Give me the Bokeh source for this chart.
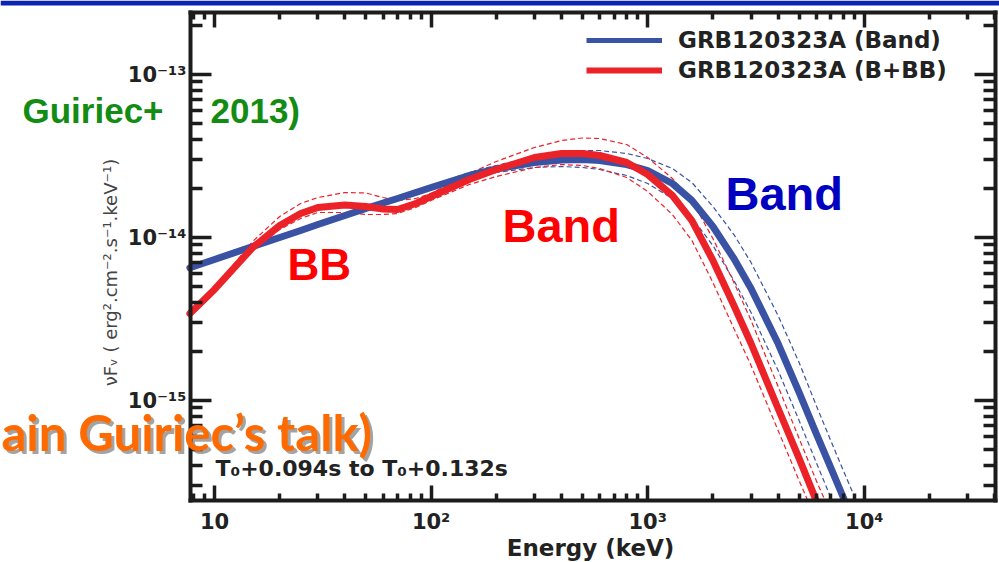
import numpy as np
from math import pi
from bokeh.plotting import figure
from bokeh.models import (FixedTicker, LogAxis, Label, Legend, LegendItem,
                          BoxAnnotation, Range1d, CustomJSTickFormatter)
from bokeh.embed import file_html
from bokeh.resources import INLINE

# ---------------- data ----------------
# photon energy grid in keV
energy_kev = [7.7, 10, 15, 20, 25, 30, 40, 50, 60, 70, 85, 100, 150, 200, 300,
              400, 500, 600, 800, 1000, 1300, 1600, 2000, 2500, 3000, 4000,
              5000, 6000, 7000, 8000, 9000, 10000]

# nuFnu in units of 1e-14 erg^2 cm^-2 s^-1 keV^-1
band_best = [0.652, 0.733, 0.881, 1.000, 1.104, 1.202, 1.364, 1.506, 1.628,
             1.735, 1.888, 2.027, 2.401, 2.632, 2.885, 2.989, 3.010, 2.967,
             2.804, 2.577, 2.144, 1.687, 1.168, 0.743, 0.487, 0.2237, 0.1120,
             0.0627, 0.0388, 0.0254, 0.01735, 0.01236]
band_upper = [0.661, 0.743, 0.893, 1.014, 1.120, 1.219, 1.384, 1.528, 1.663,
              1.772, 1.929, 2.085, 2.505, 2.765, 3.140, 3.322, 3.418, 3.418,
              3.276, 3.053, 2.650, 2.175, 1.549, 1.043, 0.702, 0.332, 0.1711,
              0.0932, 0.0568, 0.0372, 0.0258, 0.0184]
band_lower = [0.642, 0.723, 0.868, 0.986, 1.088, 1.185, 1.346, 1.485, 1.594,
              1.698, 1.849, 1.970, 2.301, 2.505, 2.688, 2.726, 2.688, 2.613,
              2.401, 2.144, 1.735, 1.326, 0.893, 0.545, 0.347, 0.1528, 0.0754,
              0.0417, 0.0254, 0.0166]
bbb_best = [0.342, 0.480, 0.868, 1.185, 1.404, 1.528, 1.583, 1.549, 1.496,
            1.485, 1.617, 1.785, 2.269, 2.613, 3.096, 3.276, 3.276, 3.185,
            2.885, 2.435, 1.810, 1.271, 0.723, 0.383, 0.2237, 0.0893, 0.0441,
            0.0243, 0.01485]
bbb_upper = [0.347, 0.4935, 0.945, 1.346, 1.617, 1.759, 1.888, 1.875, 1.759,
             1.687, 1.735, 1.862, 2.470, 2.926, 3.566, 3.936, 4.078, 4.049,
             3.720, 3.096, 2.301, 1.687, 0.986, 0.530, 0.310, 0.1219, 0.0585,
             0.0323, 0.0203]
bbb_lower = [0.337, 0.466, 0.832, 1.120, 1.308, 1.424, 1.424, 1.384, 1.384,
             1.404, 1.528, 1.687, 2.114, 2.367, 2.688, 2.804, 2.765, 2.650,
             2.334, 1.915, 1.384, 0.959, 0.530, 0.2765, 0.164, 0.0655, 0.0323,
             0.0184]
FLUX_UNIT = 1e-14

# plotted box (axis limits)
x_box = (10 ** 0.8892, 10 ** 4.6057)
y_box = (10 ** -15.6135, 10 ** -12.6196)

x_major = [10, 100, 1000, 10000]
x_labels = ["10", "10²", "10³", "10⁴"]
y_major = [1e-15, 1e-14, 1e-13]
y_labels = ["10⁻¹⁵", "10⁻¹⁴", "10⁻¹³"]

legend_labels = ["GRB120323A (Band)", "GRB120323A (B+BB)"]

# ---------------- styling ----------------
BLUE = "#3A52A3"
RED = "#EC2229"
AX = "#1c1c1c"
TXT = "#222222"

x_minor = [8, 9] + [m * 10 ** d for d in (1, 2, 3) for m in range(2, 10)] + [20000, 30000, 40000]
y_minor = [m * 1e-16 for m in range(3, 10)] + [m * 1e-15 for m in range(2, 10)] + \
          [m * 1e-14 for m in range(2, 10)] + [2e-13]

W, H = 999, 562
# the frame spans the whole page; the box's axes are pinned at the box limits
p = figure(width=W, height=H, x_axis_type="log", y_axis_type="log",
           x_range=Range1d(10 ** 0.0120, 10 ** 4.6242),
           y_range=Range1d(10 ** -15.9938, 10 ** -12.5460),
           output_backend="svg", toolbar_location=None,
           min_border=0, min_border_left=0, min_border_right=0,
           min_border_top=0, min_border_bottom=0)
p.grid.visible = False
p.outline_line_color = None
p.background_fill_color = "white"
p.border_fill_color = "white"

LOOKUP_JS = """
const e = Math.round(Math.log10(tick));
for (let i = 0; i < ticks_in.length; i++) {
  if (Math.round(Math.log10(ticks_in[i])) == e) { return labels[i]; }
}
return "";
"""


def fmt(ticks, labels):
    return CustomJSTickFormatter(args=dict(ticks_in=list(ticks), labels=list(labels)),
                                 code=LOOKUP_JS)


def style_axis(ax, major_in, minor_in, labels):
    ax.axis_line_width = 4
    ax.axis_line_color = AX
    ax.axis_line_cap = "square"
    ax.major_tick_line_width = 3.5
    ax.minor_tick_line_width = 3.5
    ax.major_tick_line_color = AX
    ax.minor_tick_line_color = AX
    ax.major_tick_in = major_in
    ax.major_tick_out = 0
    ax.minor_tick_in = minor_in
    ax.minor_tick_out = 0
    ax.major_label_text_font = "DejaVu Sans"
    ax.major_label_text_font_style = "bold"
    ax.major_label_text_color = TXT
    if labels:
        ax.major_label_text_font_size = "21px"
    else:
        ax.major_label_text_font_size = "1px"
        ax.major_label_text_alpha = 0
        ax.major_label_standoff = 0


xb = p.xaxis[0]
xb.ticker = FixedTicker(ticks=x_major, minor_ticks=x_minor)
xb.formatter = fmt(x_major, x_labels)
xb.major_label_standoff = 9
xb.fixed_location = y_box[0]
xb.bounds = x_box
style_axis(xb, 15, 7, True)

yl = p.yaxis[0]
yl.ticker = FixedTicker(ticks=y_major, minor_ticks=y_minor)
yl.formatter = fmt(y_major, y_labels)
yl.major_label_standoff = 4
yl.fixed_location = x_box[0]
yl.bounds = y_box
style_axis(yl, 21, 12, True)

xtop = LogAxis(ticker=FixedTicker(ticks=x_major, minor_ticks=x_minor),
               formatter=fmt(x_major, ["", "", "", ""]),
               fixed_location=y_box[1], bounds=x_box)
style_axis(xtop, 15, 7, False)
p.add_layout(xtop, "above")
yright = LogAxis(ticker=FixedTicker(ticks=y_major, minor_ticks=y_minor),
                 formatter=fmt(y_major, ["", "", ""]),
                 fixed_location=x_box[1], bounds=y_box)
style_axis(yright, 21, 12, False)
p.add_layout(yright, "right")

E = np.array(energy_kev, dtype=float)


def curve(vals):
    n = len(vals)
    return E[:n], np.array(vals) * FLUX_UNIT


dash = "5 3"
p.line(*curve(band_upper), line_color=BLUE, line_width=1.2, line_dash=dash)
p.line(*curve(band_lower), line_color=BLUE, line_width=1.2, line_dash=dash)
p.line(*curve(bbb_upper), line_color=RED, line_width=1.2, line_dash=dash)
p.line(*curve(bbb_lower), line_color=RED, line_width=1.2, line_dash=dash)
p.line(*curve(band_best), line_color=BLUE, line_width=7, line_cap="round", line_join="round")
p.line(*curve(bbb_best), line_color=RED, line_width=7, line_cap="round", line_join="round")

# white mask below the box so the curves stop at the lower axis
p.add_layout(BoxAnnotation(left=1, right=1e6, bottom=1e-18, top=y_box[0],
                           fill_color="white", fill_alpha=1, line_color=None,
                           level="glyph"))

# legend (style-only renderers with the legend's line widths; points off-range)
lb = p.line([1e6, 2e6], [1e-20, 1e-20], line_color=BLUE, line_width=5)
lr = p.line([1e6, 2e6], [1e-20, 1e-20], line_color=RED, line_width=6)
leg = Legend(items=[LegendItem(label=legend_labels[0], renderers=[lb]),
                    LegendItem(label=legend_labels[1], renderers=[lr])],
             location=(586, 562 - 83), glyph_width=76, glyph_height=20,
             label_standoff=16, spacing=4, padding=0, margin=0,
             border_line_color=None, background_fill_alpha=0,
             label_text_font="DejaVu Sans", label_text_font_style="bold",
             label_text_font_size="23px", label_text_color=TXT)
p.add_layout(leg)


def lab(text, px, py, size, color, font="Liberation Sans", style="bold",
        align="left", baseline="alphabetic", angle=0.0, alpha=1.0):
    if baseline == "alphabetic":
        py = py - 0.38 * size
    p.add_layout(Label(x=px, y=H - py, x_units="screen", y_units="screen",
                       text=text, text_font=font, text_font_size=f"{size}px",
                       text_font_style=style, text_color=color,
                       text_align=align, text_baseline=baseline, angle=angle,
                       text_alpha=alpha))


# header bar
p.add_layout(BoxAnnotation(left=0, right=W, top=H, bottom=H - 5,
                           left_units="screen", right_units="screen",
                           top_units="screen", bottom_units="screen",
                           fill_color="#0A24B4", fill_alpha=1, line_color=None))

lab("Guiriec+", 22, 123, 35, "#128C12")
lab("2013)", 210, 123, 35, "#128C12")
lab("ain Guiriec’s talk)", 4, 453, 49, "#333333", font="Lato", alpha=0.45)
lab("ain Guiriec’s talk)", 1, 450, 49, "#FF6A00", font="Lato")
lab("BB", 287, 281, 44, "#FF0000")
lab("Band", 502, 243, 47, "#FF0000")
lab("Band", 725, 211, 47, "#0000C0")
lab("T₀+0.094s to T₀+0.132s", 215, 476, 22, TXT, font="DejaVu Sans")
lab("Energy (keV)", 590, 556, 23, TXT, font="DejaVu Sans", align="center")
lab("νFᵥ ( erg².cm⁻².s⁻¹.keV⁻¹)", 110, 272, 18, "#444444", font="DejaVu Sans",
    style="normal", align="center", baseline="middle", angle=pi / 2)

open("out.html", "w").write(file_html(p, INLINE))
